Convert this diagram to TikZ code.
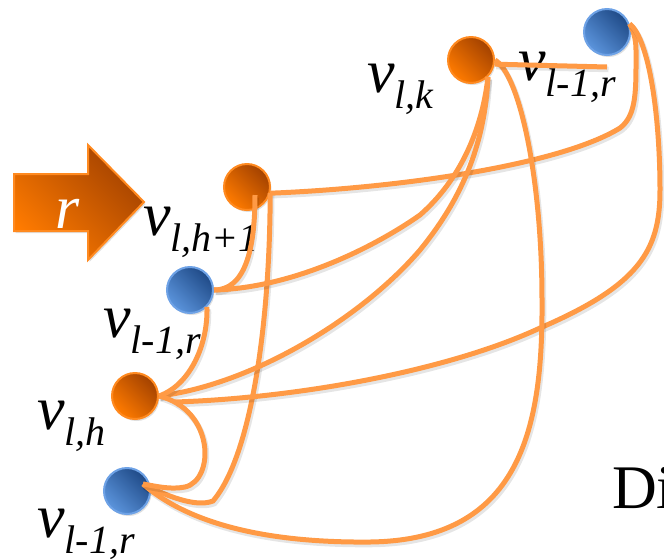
\documentclass[tikz,border=0pt]{standalone}
\usepackage{fontspec}
\setmainfont{Liberation Serif}
\usetikzlibrary{shadows}

\definecolor{linkorange}{HTML}{FF9A45}
\definecolor{ballorange}{HTML}{FF7B00}
\definecolor{balldark}{HTML}{A34200}
\definecolor{ballrim}{HTML}{FF8A20}
\definecolor{ballblue}{HTML}{5B94DC}
\definecolor{bluedark}{HTML}{1F4A87}
\definecolor{bluerim}{HTML}{6EA2E6}

\newcommand{\vname}[1]{{\fontsize{62}{62}\selectfont\itshape v}\raisebox{-16pt}{\fontsize{40}{40}\selectfont\itshape #1}}

\begin{document}
\begin{tikzpicture}[x=1pt, y=-1pt,
  oball/.style={circle, minimum size=46pt, inner sep=0pt, draw=ballrim, line width=2pt,
    top color=balldark, bottom color=ballorange, shading angle=-45,
    drop shadow={opacity=0.25, shadow xshift=1.5pt, shadow yshift=-2pt}},
  bball/.style={circle, minimum size=46pt, inner sep=0pt, draw=bluerim, line width=2pt,
    top color=bluedark, bottom color=ballblue, shading angle=-45,
    drop shadow={opacity=0.25, shadow xshift=1.5pt, shadow yshift=-2pt}},
  lbl/.style={inner sep=0pt, anchor=base west},
  link/.style={draw=linkorange, line width=5pt,
    preaction={draw=black, opacity=0.10, line width=5.5pt, transform canvas={xshift=1.5pt, yshift=-2.5pt}}},
]
\useasboundingbox (0,0) rectangle (664,558);

% input arrow
\draw[draw=ballrim, line width=2pt, top color=balldark, bottom color=ballorange, shading angle=-45,
  drop shadow={opacity=0.25, shadow xshift=1.5pt, shadow yshift=-2pt}]
  (14,174) -- (88,174) -- (88,145) -- (144,202) -- (88,260) -- (88,231) -- (14,231) -- cycle;
\node[lbl, text=white, font=\fontsize{62}{62}\selectfont\itshape] (rin) at (55,228) {r};

% nodes
\node[oball] (hplus) at (247,187) {};
\node[bball] (rmid) at (190,290) {};
\node[oball] (h) at (135,396) {};
\node[bball] (rbot) at (127,491) {};
\node[oball] (k) at (471,60) {};
\node[bball] (rtop) at (607,32) {};

% labels
\node[lbl] (k-lbl) at (367,92) {\vname{l,k}};
\node[lbl] (rtop-lbl) at (518,80) {\vname{l-1,r}};
\node[lbl] (hplus-lbl) at (143,235) {\vname{l,h+1}};
\node[lbl] (rmid-lbl) at (103,337) {\vname{l-1,r}};
\node[lbl] (h-lbl) at (37,429) {\vname{l,h}};
\node[lbl] (rbot-lbl) at (37,537) {\vname{l-1,r}};
\node[lbl, font=\fontsize{62}{62}\selectfont] (di) at (612,508) {Di};

\coordinate (rbot-in) at ([xshift=16pt,yshift=7pt]rbot.center);
\coordinate (h-in) at ([xshift=40pt,yshift=-6pt]h.center);
\coordinate (rtop-end) at ([yshift=-11pt]rtop.south);

% links
\draw[link] (hplus.-15) .. controls (400,188) and (560,165) .. (620,128)
  .. controls (637,115) and (636,90) .. (636,50) .. controls (636,38) and (633,30) .. (rtop.20);
\draw[link] ([xshift=8pt,yshift=-8pt]hplus.center) .. controls (255,250) and (245,290) .. (rmid.east);
\draw[link] (hplus.-15) .. controls (270,320) and (252,455) .. (213,501)
  .. controls (195,508) and (165,495) .. (rbot-in);
\draw[link] (rmid.east) .. controls (290,288) and (370,250) .. (420,215)
  .. controls (460,180) and (482,130) .. (k.-45);
\draw[link] (h.east) .. controls (250,385) and (360,320) .. (420,250)
  .. controls (465,195) and (485,140) .. (k.-45);
\draw[link] (rtop.20) .. controls (650,40) and (660,120) .. (660,190)
  .. controls (660,250) and (640,285) .. (540,328) .. controls (450,370) and (300,398) .. (h-in);
\draw[link] (k.east) .. controls (520,75) and (542,180) .. (542,300)
  .. controls (543,430) and (520,540) .. (370,542) .. controls (270,543) and (190,525) .. (rbot-in);
\draw[link] (rmid.-45) .. controls (208,345) and (190,385) .. (h.east);
\draw[link] (h.east) .. controls (215,410) and (215,480) .. (185,487)
  .. controls (170,490) and (155,486) .. (rbot-in);
\draw[link] (k.-10) -- (rtop-end);
\end{tikzpicture}
\end{document}
